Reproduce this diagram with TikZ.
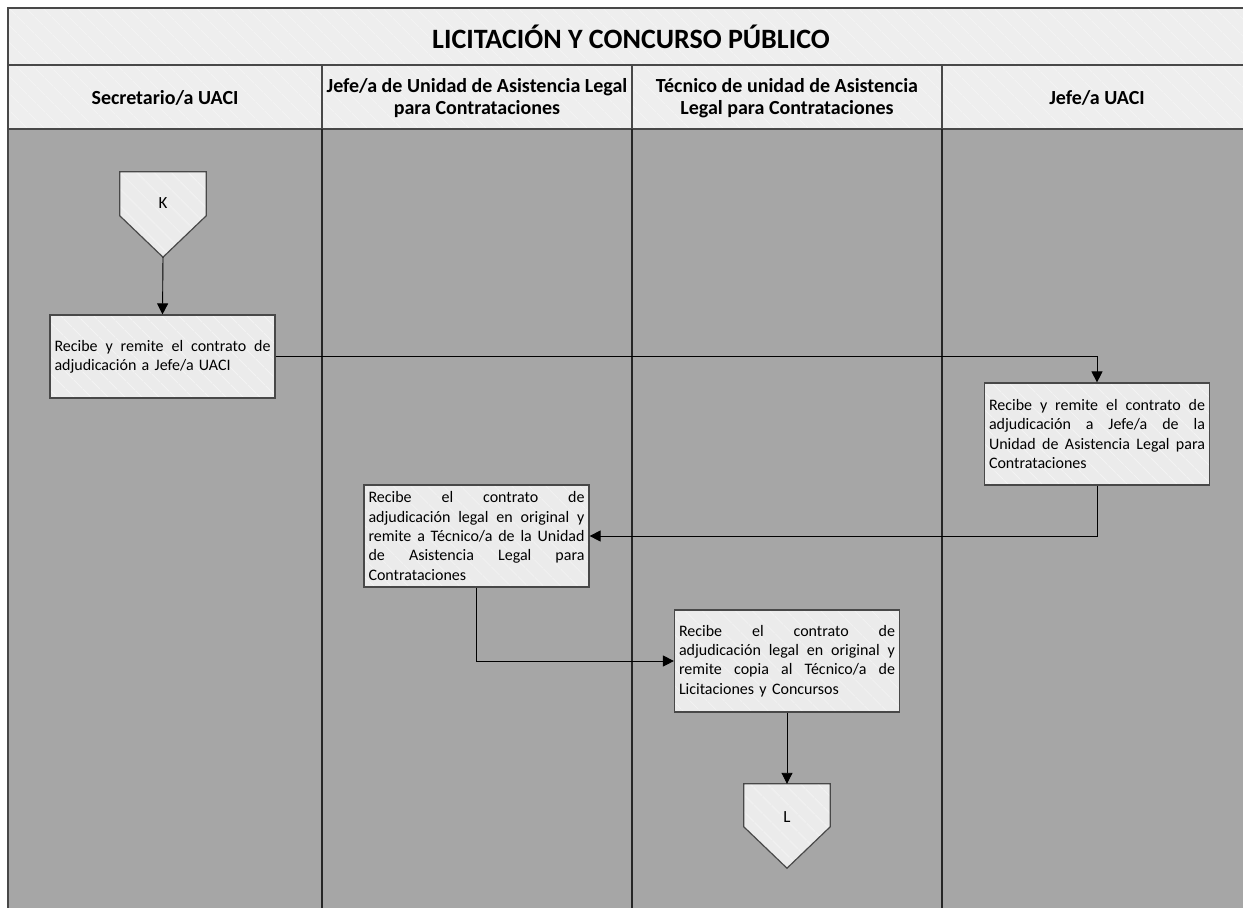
\documentclass[tikz,border=0pt]{standalone}
\usepackage{fontspec}
\setmainfont{Carlito}
\usetikzlibrary{arrows.meta,patterns.meta,calc}
\definecolor{lanegray}{HTML}{A6A6A6}
\definecolor{boxfill}{HTML}{EBEBEB}
\definecolor{headfill}{HTML}{EEEEEE}
\definecolor{hatch}{HTML}{F3F3F3}
\definecolor{edgegray}{HTML}{484848}
\newcommand{\jl}[1]{\leavevmode\hbox to 216pt{#1}}
\newcommand{\sk}{\hfill\ }
\begin{document}
\begin{tikzpicture}[x=1pt,y=-1pt,
  hatched/.style={preaction={fill=#1},pattern={Lines[angle=-45,distance=13pt,line width=1.1pt]},pattern color=hatch},
  procbox/.style={draw=edgegray,line width=1.2pt,hatched=boxfill,minimum width=225pt,text width=216pt,inner xsep=4.5pt,inner ysep=0pt,align=left,font=\fontsize{16}{19.3}\selectfont},
  connbox/.style={draw=none,minimum width=86pt,inner sep=0pt},
  connshape/.style={draw=edgegray,line width=1.2pt,hatched=boxfill},
  conntxt/.style={font=\fontsize{17}{20}\selectfont,inner sep=0pt},
  headtxt/.style={font=\bfseries\fontsize{20}{22}\selectfont,align=center,inner sep=0pt},
  arr/.style={draw=black,line width=0.9pt,-{Triangle[length=11pt,width=11pt]}},
  hline/.style={draw=edgegray,line width=1.4pt},
  lanedivider/.style={draw=black!85,line width=1.2pt}]
\useasboundingbox (0,0) rectangle (1243,908);
% backgrounds
\path[hatched=headfill] (8,8) rectangle (1252,129);
\fill[lanegray] (8,129) rectangle (1252,908);
% frame lines
\draw[hline] (8,908) -- (8,8) -- (1252,8);
\draw[hline] (8,65) -- (1252,65);
\draw[hline,line width=2pt] (8,129) -- (1252,129);
\foreach \xx in {322,632,942}{
  \draw[hline,line width=1.2pt] (\xx,65) -- (\xx,129);
  \draw[lanedivider] (\xx,129) -- (\xx,908);
}
% texts
\node[headtxt,font=\bfseries\fontsize{28}{32}\selectfont] (title) at (631,37) {LICITACIÓN Y CONCURSO PÚBLICO};
\node[headtxt] (h1) at (165,98) {Secretario/a UACI};
\node[headtxt] (h2) at (477,98) {Jefe/a de Unidad de Asistencia Legal\\para Contrataciones};
\node[headtxt] (h3) at (787,98) {Técnico de unidad de Asistencia\\Legal para Contrataciones};
\node[headtxt] (h4) at (1097,98) {Jefe/a UACI};
% connector K
\node[connbox,minimum height=85pt] (K) at (163,214.5) {};
\draw[connshape] (K.north west) -- (K.north east) -- ($(K.north east)+(0,44)$) -- (K.south) -- ($(K.north west)+(0,44)$) -- cycle;
\node[conntxt] (Klbl) at (163,203) {K};
% process boxes
\node[procbox,minimum height=83pt] (b1) at (162.5,356.5) {\jl{Recibe\sk y\sk remite\sk el\sk contrato\sk de}\\adjudicación a Jefe/a UACI};
\node[procbox,minimum height=102pt] (b2) at (1097,434) {\jl{Recibe\sk y\sk remite\sk el\sk contrato\sk de}\\\jl{adjudicación\sk a\sk Jefe/a\sk de\sk la}\\\jl{Unidad\sk de\sk Asistencia\sk Legal\sk para}\\Contrataciones};
\node[procbox,minimum height=102pt] (b3) at (476.5,536) {\jl{Recibe\sk el\sk contrato\sk de}\\\jl{adjudicación\sk legal\sk en\sk original\sk y}\\\jl{remite\sk a\sk Técnico/a\sk de\sk la\sk Unidad}\\\jl{de\sk Asistencia\sk Legal\sk para}\\Contrataciones};
\node[procbox,minimum height=102pt] (b4) at (787,661) {\jl{Recibe\sk el\sk contrato\sk de}\\\jl{adjudicación\sk legal\sk en\sk original\sk y}\\\jl{remite\sk copia\sk al\sk Técnico/a\sk de}\\Licitaciones y Concursos};
% connector L
\node[connbox,minimum height=84pt] (L) at (787,826) {};
\draw[connshape] (L.north west) -- (L.north east) -- ($(L.north east)+(0,43)$) -- (L.south) -- ($(L.north west)+(0,43)$) -- cycle;
\node[conntxt] (Llbl) at (787,817) {L};
% flows
\draw[arr] (K.south) -- (b1.north);
\draw[arr] (b1.east) -| (b2.north);
\draw[arr] (b2.south) |- (b3.east);
\draw[arr] (b3.south) |- (b4.west);
\draw[arr] (b4.south) -- (L.north);
\end{tikzpicture}
\end{document}
